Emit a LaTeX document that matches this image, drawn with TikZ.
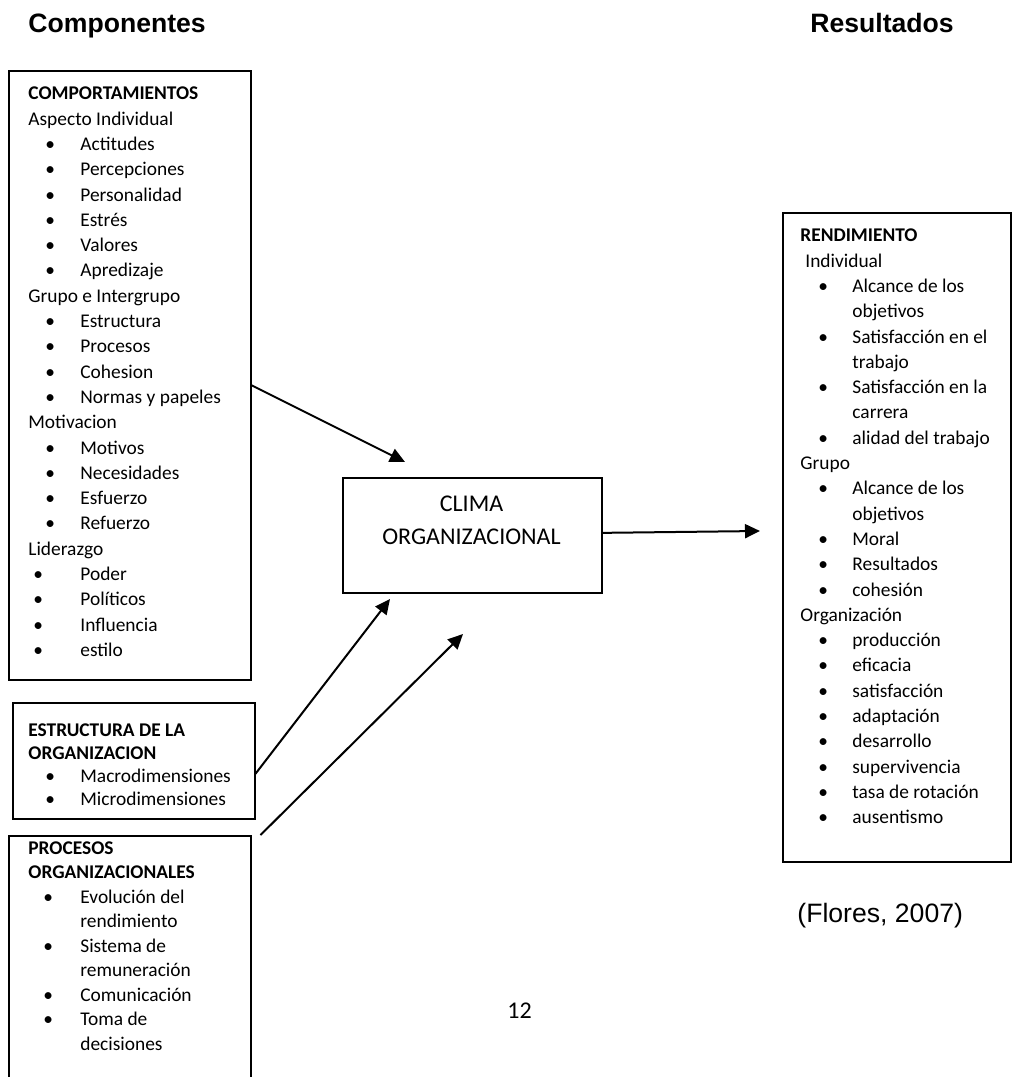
\documentclass[tikz,border=0pt]{standalone}
\usepackage{fontspec}
\setmainfont{Carlito}
\newfontfamily\arialfont{Liberation Sans}
\usetikzlibrary{arrows.meta}
\newcommand{\blt}[2][8.5pt]{\hspace*{#1}\makebox[\dimexpr26pt-#1\relax][l]{•}#2}
\newcommand{\cnt}[1]{\hspace*{26pt}#1}
\begin{document}
\begin{tikzpicture}[x=0.5pt,y=-0.5pt,
  box/.style={draw,line width=0.75pt,inner sep=0,anchor=north west},
  txt/.style={inner sep=0,anchor=north west,align=left,font=\fontsize{9.7}{12.65}\selectfont},
  hdr/.style={inner sep=0,anchor=base west,font=\arialfont\bfseries\fontsize{13.3}{16}\selectfont},
  arr/.style={line width=1pt,-{Triangle[length=7.5pt,width=7pt]}}]
  \useasboundingbox (0,0) rectangle (1012,1077);
  \clip (0,0) rectangle (1012,1077);
  \node[hdr] (hcomp) at (28,32) {Componentes};
  \node[hdr] (hres) at (810,32) {Resultados};
  \node[box,minimum width=121pt,minimum height=304.5pt] (comp) at (8,70) {};
  \node[box,minimum width=121pt,minimum height=58pt] (estr) at (12,702) {};
  \node[box,minimum width=121pt,minimum height=132.5pt] (proc) at (8,835) {};
  \node[box,minimum width=129.5pt,minimum height=57.5pt] (clima) at (342,477) {};
  \node[box,minimum width=114pt,minimum height=324.5pt] (rend) at (782,212) {};
  \node[txt] (comptxt) at (28,86.7) {\textbf{COMPORTAMIENTOS}\\Aspecto Individual\\
    \blt{Actitudes}\\\blt{Percepciones}\\\blt{Personalidad}\\\blt{Estrés}\\\blt{Valores}\\\blt{Apredizaje}\\
    Grupo e Intergrupo\\
    \blt{Estructura}\\\blt{Procesos}\\\blt{Cohesion}\\\blt{Normas y papeles}\\
    Motivacion\\
    \blt{Motivos}\\\blt{Necesidades}\\\blt{Esfuerzo}\\\blt{Refuerzo}\\
    Liderazgo\\
    \blt[2.5pt]{Poder}\\\blt[2.5pt]{Políticos}\\\blt[2.5pt]{Influencia}\\\blt[2.5pt]{estilo}};
  \node[txt,font=\fontsize{9.7}{11.4}\selectfont] (estrtxt) at (28,723.8) {\textbf{ESTRUCTURA DE LA}\\\textbf{ORGANIZACION}\\
    \blt{Macrodimensiones}\\\blt{Microdimensiones}};
  \node[txt,font=\fontsize{9.7}{12.25}\selectfont] (proctxt) at (28,841) {\textbf{PROCESOS}\\\textbf{ORGANIZACIONALES}\\
    \blt[7.5pt]{Evolución del}\\\cnt{rendimiento}\\\blt[7.5pt]{Sistema de}\\\cnt{remuneración}\\
    \blt[7.5pt]{Comunicación}\\\blt[7.5pt]{Toma de}\\\cnt{decisiones}};
  \node[txt] (rendtxt) at (800,228.7) {\textbf{RENDIMIENTO}\\\hspace*{2.5pt}Individual\\
    \blt[9pt]{Alcance de los}\\\cnt{objetivos}\\\blt[9pt]{Satisfacción en el}\\\cnt{trabajo}\\
    \blt[9pt]{Satisfacción en la}\\\cnt{carrera}\\\blt[9pt]{alidad del trabajo}\\
    Grupo\\
    \blt[9pt]{Alcance de los}\\\cnt{objetivos}\\\blt[9pt]{Moral}\\\blt[9pt]{Resultados}\\\blt[9pt]{cohesión}\\
    Organización\\
    \blt[9pt]{producción}\\\blt[9pt]{eficacia}\\\blt[9pt]{satisfacción}\\\blt[9pt]{adaptación}\\
    \blt[9pt]{desarrollo}\\\blt[9pt]{supervivencia}\\\blt[9pt]{tasa de rotación}\\\blt[9pt]{ausentismo}};
  \node[align=center,font=\fontsize{12}{16.5}\selectfont] (climatxt) at (471.5,520.5) {CLIMA\\ORGANIZACIONAL};
  \node[inner sep=0,anchor=base west,font=\arialfont\fontsize{13.3}{16}\selectfont] (cita) at (797,922) {(Flores, 2007)};
  \node[inner sep=0,anchor=base west,font=\fontsize{12}{14}\selectfont] (pag) at (507,1018) {12};
  \coordinate (tipA) at (405,462);
  \coordinate (tipB) at (390,599);
  \coordinate (tipC) at (463,634);
  \coordinate (tipD) at (760,531);
  \draw[arr] ([yshift=-5pt]comp.east) -- (tipA);
  \draw[arr] ([yshift=-6.5pt]estr.east) -- (tipB);
  \draw[arr] ([xshift=4.5pt]proc.north east) -- (tipC);
  \draw[arr] ([yshift=1.2pt]clima.east) -- (tipD);
\end{tikzpicture}
\end{document}
